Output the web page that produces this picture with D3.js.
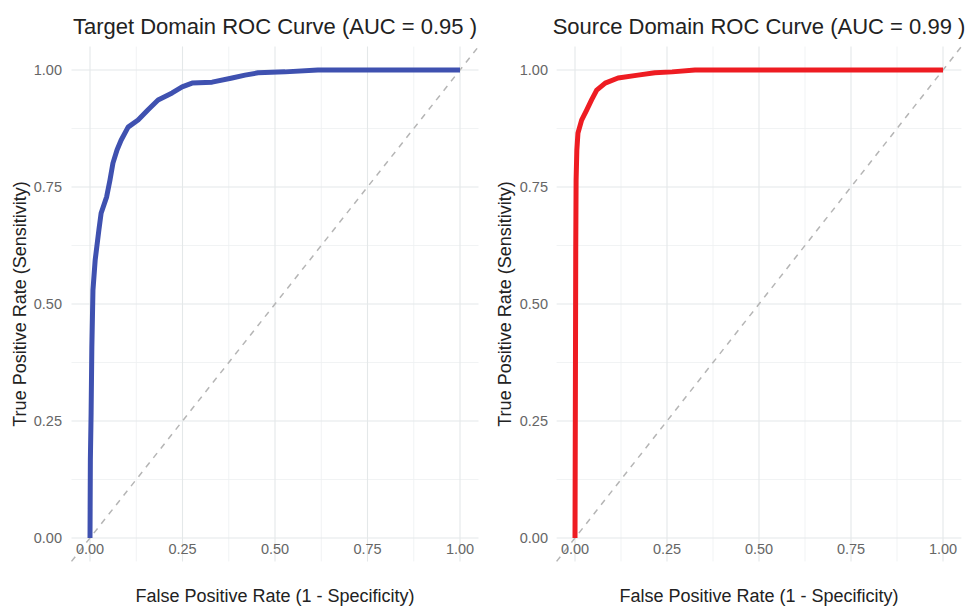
<!DOCTYPE html>
<html>
<head>
<meta charset="utf-8">
<script src="https://cdn.jsdelivr.net/npm/d3@7"></script>
<style>
  html, body { margin: 0; padding: 0; background: #fff; }
  svg { display: block; font-family: "Liberation Sans", Arial, sans-serif; }
</style>
</head>
<body>
<svg id="chart" width="975" height="606"></svg>
<script>
// ---- data ----
const titles = ["Target Domain ROC Curve (AUC = 0.95 )", "Source Domain ROC Curve (AUC = 0.99 )"];
const xLabel = "False Positive Rate (1 - Specificity)";
const yLabel = "True Positive Rate (Sensitivity)";
const tickValues = [0, 0.25, 0.5, 0.75, 1];
const minorValues = [0.125, 0.375, 0.625, 0.875];
const colors = ["#3f51b0", "#ee1c22"];

const targetFPR = [0, 0.001, 0.003, 0.005, 0.008, 0.014, 0.024, 0.030, 0.045, 0.054, 0.062, 0.073, 0.084, 0.103, 0.130, 0.157, 0.184, 0.222, 0.249, 0.276, 0.330, 0.384, 0.419, 0.454, 0.527, 0.616, 1];
const targetTPR = [0, 0.167, 0.267, 0.408, 0.530, 0.594, 0.658, 0.694, 0.729, 0.765, 0.801, 0.829, 0.850, 0.878, 0.893, 0.915, 0.936, 0.951, 0.964, 0.972, 0.974, 0.983, 0.989, 0.994, 0.996, 1, 1];

const sourceFPR = [0, 0.001, 0.002, 0.003, 0.005, 0.008, 0.018, 0.032, 0.045, 0.059, 0.082, 0.117, 0.171, 0.217, 0.264, 0.326, 1];
const sourceTPR = [0, 0.295, 0.615, 0.765, 0.829, 0.865, 0.893, 0.915, 0.936, 0.957, 0.972, 0.983, 0.989, 0.994, 0.996, 1, 1];

const svg = d3.select("#chart");

const panels = [
  { x0: 90, x1: 460, yLabX: 20, tickRight: 62, fpr: targetFPR, tpr: targetTPR, color: colors[0], title: titles[0] },
  { x0: 575, x1: 943, yLabX: 505, tickRight: 548, fpr: sourceFPR, tpr: sourceTPR, color: colors[1], title: titles[1] }
];
const yTop = 70, yBot = 538;

panels.forEach(p => {
  const x = d3.scaleLinear().domain([0, 1]).range([p.x0, p.x1]);
  const y = d3.scaleLinear().domain([0, 1]).range([yBot, yTop]);
  const xd = [-0.05, 1.05];
  const g = svg.append("g");

  // minor grid
  g.selectAll(".mx").data(minorValues).join("line")
    .attr("x1", d => x(d)).attr("x2", d => x(d))
    .attr("y1", y(xd[0])).attr("y2", y(xd[1]))
    .attr("stroke", "#edf0f1").attr("stroke-width", 0.8);
  g.selectAll(".my").data(minorValues).join("line")
    .attr("y1", d => y(d)).attr("y2", d => y(d))
    .attr("x1", x(xd[0])).attr("x2", x(xd[1]))
    .attr("stroke", "#edf0f1").attr("stroke-width", 0.8);
  // major grid
  g.selectAll(".Mx").data(tickValues).join("line")
    .attr("x1", d => x(d)).attr("x2", d => x(d))
    .attr("y1", y(xd[0])).attr("y2", y(xd[1]))
    .attr("stroke", "#e4e8e9").attr("stroke-width", 1.1);
  g.selectAll(".My").data(tickValues).join("line")
    .attr("y1", d => y(d)).attr("y2", d => y(d))
    .attr("x1", x(xd[0])).attr("x2", x(xd[1]))
    .attr("stroke", "#e4e8e9").attr("stroke-width", 1.1);

  // diagonal reference
  g.append("line")
    .attr("x1", x(xd[0])).attr("y1", y(xd[0]))
    .attr("x2", x(xd[1])).attr("y2", y(xd[1]))
    .attr("stroke", "#b5b5b5").attr("stroke-width", 1.5)
    .attr("stroke-dasharray", "6,6");

  // ROC curve
  const pts = p.fpr.map((f, i) => [f, p.tpr[i]]);
  g.append("path")
    .datum(pts)
    .attr("d", d3.line().x(d => x(d[0])).y(d => y(d[1])))
    .attr("fill", "none")
    .attr("stroke", p.color)
    .attr("stroke-width", 5)
    .attr("stroke-linejoin", "round");

  // tick labels
  const fmt = d3.format(".2f");
  g.selectAll(".xt").data(tickValues).join("text")
    .attr("x", d => x(d)).attr("y", 554)
    .attr("text-anchor", "middle")
    .attr("font-size", 14.5).attr("fill", "#666")
    .text(fmt);
  g.selectAll(".yt").data(tickValues).join("text")
    .attr("x", p.tickRight).attr("y", d => y(d) + 5)
    .attr("text-anchor", "end")
    .attr("font-size", 14.5).attr("fill", "#666")
    .text(fmt);

  // axis titles
  g.append("text")
    .attr("x", (p.x0 + p.x1) / 2).attr("y", 602)
    .attr("text-anchor", "middle")
    .attr("font-size", 18).attr("fill", "#222")
    .text(xLabel);
  g.append("text")
    .attr("transform", `translate(${p.yLabX + 6},${(yTop + yBot) / 2}) rotate(-90)`)
    .attr("text-anchor", "middle")
    .attr("font-size", 18).attr("fill", "#222")
    .text(yLabel);

  // title
  g.append("text")
    .attr("x", (x(xd[0]) + x(xd[1])) / 2).attr("y", 34)
    .attr("text-anchor", "middle")
    .attr("font-size", 22).attr("fill", "#222")
    .text(p.title);
});
</script>
</body>
</html>
